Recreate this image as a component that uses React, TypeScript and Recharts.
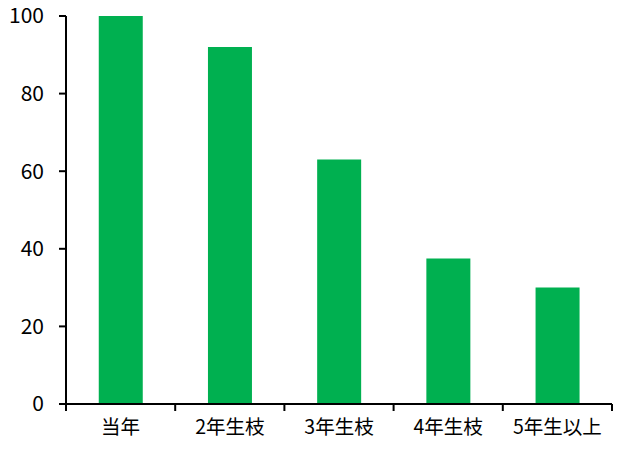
import { Bar, BarChart, XAxis, YAxis } from "recharts";

const categories = ["当年", "2年生枝", "3年生枝", "4年生枝", "5年生以上"];
const values = [100, 92, 63, 37.5, 30];
const yTicks = [0, 20, 40, 60, 80, 100];

const data = categories.map((name, i) => ({ name, value: values[i] }));

const FONT = '"Noto Sans CJK JP", "Noto Sans", sans-serif';
const TICK_SIZE = 7;
const TICK_MARGIN = 10;

function CategoryTick(props: any) {
  const { x, y, payload, index, visibleTicksCount } = props;
  const half = payload?.offset ?? 54.6;
  const axisY = y - TICK_SIZE - TICK_MARGIN;
  const last = index === (visibleTicksCount ?? categories.length) - 1;
  return (
    <g>
      <line x1={x - half} x2={x - half} y1={axisY} y2={axisY + TICK_SIZE} stroke="#000" strokeWidth={2} />
      {last && (
        <line x1={x + half} x2={x + half} y1={axisY} y2={axisY + TICK_SIZE} stroke="#000" strokeWidth={2} />
      )}
      <text x={x} y={y} dy="0.68em" textAnchor="middle" fontSize={19.5} fill="#000" fontFamily={FONT}>
        {payload.value}
      </text>
    </g>
  );
}

export default function App() {
  return (
    <div style={{ position: "absolute", left: 0, top: 0, background: "#fff" }}>
      <BarChart
        width={620}
        height={450}
        data={data}
        margin={{ top: 16, right: 8, bottom: 0, left: 0 }}
        barCategoryGap="30%"
      >
        <XAxis
          dataKey="name"
          height={46}
          tickLine={false}
          tickSize={TICK_SIZE}
          tickMargin={TICK_MARGIN}
          axisLine={{ stroke: "#000", strokeWidth: 2 }}
          tick={<CategoryTick />}
          interval={0}
        />
        <YAxis
          width={66}
          domain={[0, 100]}
          ticks={yTicks}
          tickSize={7}
          tickMargin={15}
          axisLine={{ stroke: "#000", strokeWidth: 2 }}
          tickLine={{ stroke: "#000", strokeWidth: 2 }}
          tick={{ fill: "#000", fontSize: 21, fontFamily: FONT }}
        />
        <Bar dataKey="value" fill="#00B050" isAnimationActive={false} />
      </BarChart>
    </div>
  );
}
